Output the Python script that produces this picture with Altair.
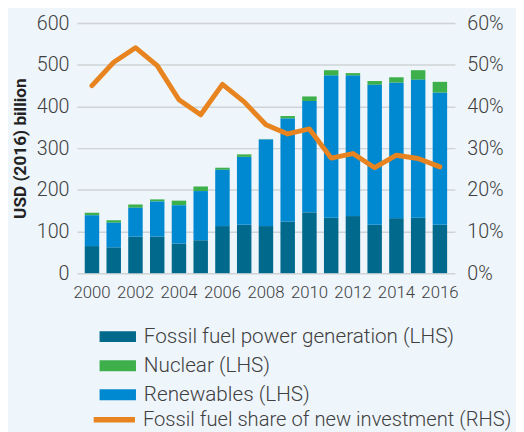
import altair as alt
import pandas as pd

years = list(range(2000, 2017))
fossil = [65, 62, 88, 88, 71, 79, 113, 116, 113, 124, 146, 133, 137, 116, 132, 133, 116]
renewables = [74, 59, 69, 84, 92, 118, 135, 163, 208, 247, 267, 341, 337, 336, 325, 331, 317]
nuclear = [6, 6, 8, 5, 11, 11, 5, 6, 1, 6, 11, 13, 6, 9, 13, 23, 26]
fossil_share = [45.0, 50.6, 54.1, 49.8, 41.6, 38.0, 45.3, 41.1, 35.6, 33.4,
                34.6, 27.6, 28.7, 25.3, 28.3, 27.5, 25.5]

categories = ["Fossil fuel power generation (LHS)", "Nuclear (LHS)", "Renewables (LHS)"]
stack_order = [0, 2, 1]
colors = ["#00698c", "#3db04b", "#0088d0"]
line_label = "Fossil fuel share of new investment (RHS)"
line_color = "#e8841f"
x_label_years = [2000, 2002, 2004, 2006, 2008, 2010, 2012, 2014, 2016]
left_ticks = [0, 100, 200, 300, 400, 500, 600]
right_ticks = [0, 0.1, 0.2, 0.3, 0.4, 0.5, 0.6]

rows = []
for i, y in enumerate(years):
    for cat, vals, o in zip(categories, [fossil, nuclear, renewables], stack_order):
        rows.append({"year": y, "category": cat, "value": vals[i], "ord": o})
bars_df = pd.DataFrame(rows)
line_df = pd.DataFrame({"year": years, "share": [v / 100 for v in fossil_share],
                        "series": [line_label] * len(years)})

FONT = "Roboto"
TXT = "#404040"

x_enc = alt.X("year:O",
              scale=alt.Scale(paddingInner=0.335, paddingOuter=0.36),
              axis=alt.Axis(title=None, values=x_label_years, labelAngle=0, ticks=False,
                            domain=False, labelFont=FONT, labelFontSize=17,
                            labelFontWeight=300, labelColor=TXT, labelPadding=12))

bars = alt.Chart(bars_df).mark_bar().encode(
    x=x_enc,
    y=alt.Y("value:Q", stack="zero",
            scale=alt.Scale(domain=[0, 600], nice=False),
            axis=alt.Axis(title="USD (2016) billion", values=left_ticks, ticks=False,
                          domain=False, grid=True, gridColor="#cfd3d6", gridWidth=1.5,
                          labelFont=FONT, labelFontSize=20, labelFontWeight=300,
                          labelColor=TXT, labelPadding=8,
                          titleFont=FONT, titleFontSize=17.5, titleFontWeight="bold",
                          titleColor="#222222", titlePadding=7)),
    color=alt.Color("category:N",
                    scale=alt.Scale(domain=categories, range=colors),
                    legend=alt.Legend(title=None, orient="none", legendX=31, legendY=308,
                                      symbolType="M-2,-0.6H2V0.6H-2Z", symbolSize=342,
                                      symbolStrokeWidth=0, labelFont=FONT,
                                      labelFontSize=21, labelFontWeight=300,
                                      labelColor=TXT, labelLimit=0, labelOffset=16,
                                      rowPadding=7.5)),
    order=alt.Order("ord:Q"),
)

line = alt.Chart(line_df).mark_line(strokeWidth=5, strokeJoin="round", strokeCap="round").encode(
    x=alt.X("year:O"),
    y=alt.Y("share:Q",
            scale=alt.Scale(domain=[0, 0.6], nice=False),
            axis=alt.Axis(title=None, orient="right", values=right_ticks, format=".0%",
                          ticks=False, domain=False, grid=False,
                          labelFont=FONT, labelFontSize=20, labelFontWeight=300,
                          labelColor=TXT, labelPadding=12)),
    stroke=alt.Stroke("series:N",
                      scale=alt.Scale(domain=[line_label], range=[line_color]),
                      legend=alt.Legend(title=None, orient="none", legendX=25, legendY=390,
                                        symbolType="M-1.8,-0.03H1.8V0.03H-1.8Z",
                                        symbolSize=420, symbolStrokeWidth=5,
                                        labelFont=FONT, labelFontSize=20.5,
                                        labelFontWeight=300, labelColor=TXT,
                                        labelLimit=0, labelOffset=16)),
)

chart = alt.layer(bars, line).resolve_scale(y="independent", color="independent").properties(
    width=384, height=254,
    autosize=alt.AutoSizeParams(type="none"),
    padding={"left": 70, "top": 12, "right": 62, "bottom": 158},
    background="#eef5fb",
).configure_view(stroke=None)

chart.save("out.html", embed_options={"renderer": "svg", "actions": False})
